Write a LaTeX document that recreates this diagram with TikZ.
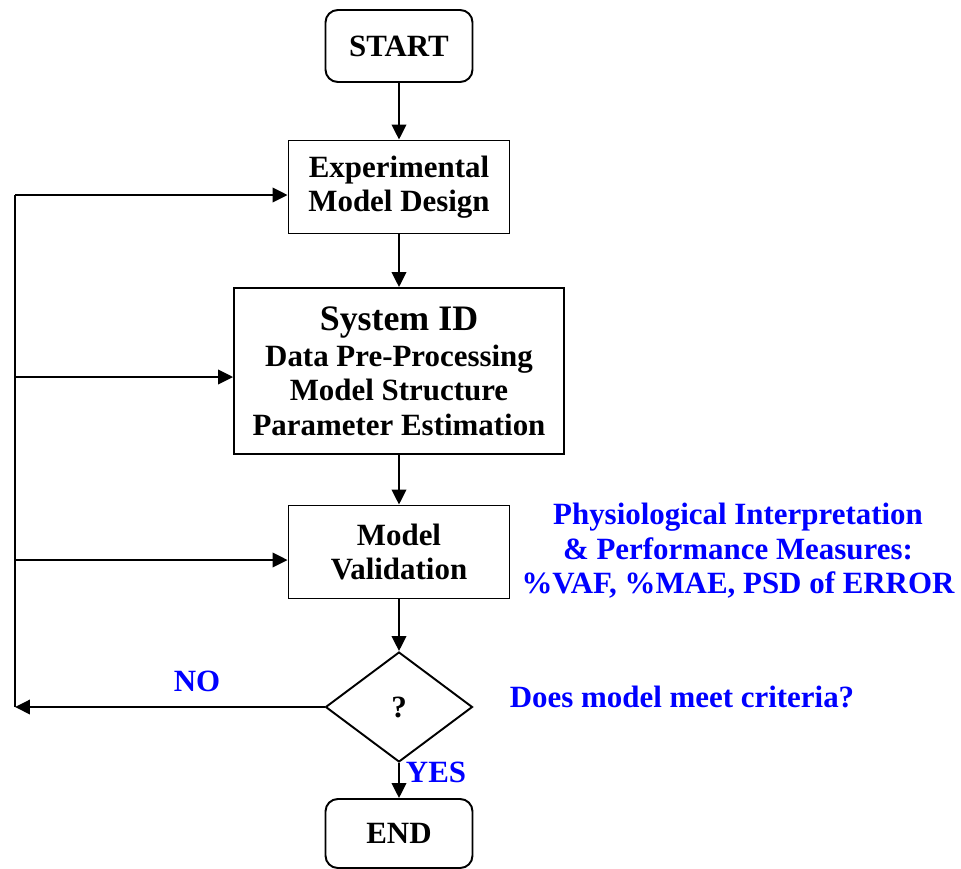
\documentclass[tikz,border=0pt]{standalone}
\usepackage{fontspec}
\setmainfont{Liberation Serif}
\usetikzlibrary{shapes.geometric,arrows.meta,positioning}
\definecolor{labelblue}{RGB}{0,0,255}
\tikzset{box/.style={draw, line width=1.1pt, align=center, inner sep=0pt,
                font=\bfseries\fontsize{17.6}{19.6}\selectfont},
         term/.style={box, rounded corners=7pt, minimum width=2.94cm, minimum height=1.44cm},
         proc/.style={box, minimum width=4.42cm, minimum height=1.86cm},
         decide/.style={box, diamond, minimum width=2.94cm, minimum height=2.2cm},
         arr/.style={line width=1.1pt, -{Triangle[length=0.3cm, width=0.29cm]}},
         note/.style={text=labelblue, align=center, font=\bfseries\fontsize{17.6}{19.6}\selectfont}}

\begin{document}
\begin{tikzpicture}[x=0.02cm, y=-0.02cm]
                \useasboundingbox (0,0) rectangle (961,869);

                \node [term] (start) at (399,46) {START};
                \node [proc] (design) at (399,187) {Experimental\\Model Design};
                \node [proc, minimum width=6.6cm, minimum height=3.32cm] (sysid) at (399,371)
                    {{\fontsize{20.4}{22}\selectfont System ID}\\[1pt]
                     Data Pre-Processing\\Model Structure\\Parameter Estimation};
                \node [proc] (valid) at (399,552) {Model\\Validation};
                \node [decide] (check) at (399,707) {?};
                \node [term, minimum height=1.38cm] (stop) at (399,833.5) {END};

                \node [note] (measures) at (738,551) {Physiological Interpretation\\
                    \& Performance Measures:\\\%VAF, \%MAE, PSD of ERROR};
                \node [note] (criteria) at (682,697) {Does model meet criteria?};
                \node [note] (no) at (197,681) {NO};
                \node [note] (yes) at (436,772) {YES};

                \coordinate (back) at (15,707);
                \coordinate (top) at (15,195);
                \coordinate (mid) at (15,377);
                \coordinate (low) at (15,560);

                \draw [arr] (start) -- (design);
                \draw [arr] (design) -- (sysid);
                \draw [arr] (sysid) -- (valid);
                \draw [arr] (valid) -- (check);
                \draw [arr] (check) -- (stop);

                \draw [arr] (check.west) -- (back);
                \draw [line width=1.1pt] (back) -- (top);
                \draw [arr] (top) -- (design.west |- top);
                \draw [arr] (mid) -- (sysid.west |- mid);
                \draw [arr] (low) -- (valid.west |- low);

\end{tikzpicture}
\end{document}
